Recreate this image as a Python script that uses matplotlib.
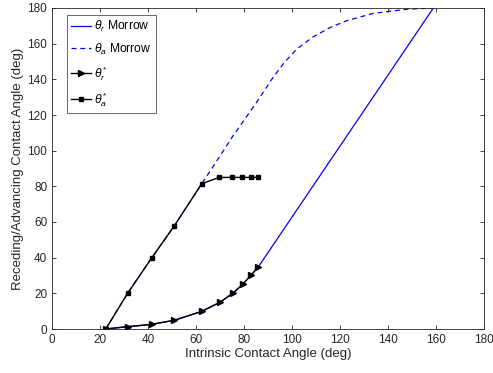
import matplotlib
matplotlib.use("Agg")
import matplotlib.pyplot as plt

plt.rcParams['font.family'] = ['Liberation Sans', 'DejaVu Sans']
plt.rcParams['mathtext.fontset'] = 'custom'
plt.rcParams['mathtext.it'] = 'Liberation Sans:italic'
plt.rcParams['mathtext.rm'] = 'Liberation Sans'

# Data
theta_star_x = [22.4, 31.5, 41.5, 51.0, 62.4, 70.0, 75.3, 79.4, 82.9, 86.0]
theta_r_star = [0.0, 1.3, 2.6, 4.9, 9.9, 15.0, 20.0, 25.0, 30.1, 34.9]
theta_a_star_x = [22.4, 31.5, 41.5, 51.0, 62.4, 69.7, 75.1, 79.3, 82.9, 86.0]
theta_a_star = [0.0, 20.0, 39.8, 57.9, 81.5, 85.0, 85.0, 85.0, 85.0, 85.0]

morrow_r_x = [22.4, 31.5, 41.5, 51.0, 62.4, 70.0, 75.3, 79.4, 82.9, 86.0, 158.9]
morrow_r = [0.0, 1.3, 2.6, 4.9, 9.9, 15.0, 20.0, 25.0, 30.1, 34.9, 180.0]
morrow_a_x = [22.4, 31.5, 41.5, 51.0, 62.4, 70.0, 75.5, 81.8, 86.7, 91.3, 96.4,
              102.0, 108.9, 115.8, 122.8, 133.9, 147.8, 158.9]
morrow_a = [0.0, 20.0, 39.8, 57.9, 81.5, 97.0, 108.5, 120.5, 130.0, 139.5, 148.8,
            157.0, 163.9, 169.0, 172.9, 177.0, 179.3, 180.0]

xticks = list(range(0, 181, 20))
yticks = list(range(0, 181, 20))

fig = plt.figure(figsize=(4.93, 3.73), dpi=100)
ax = fig.add_axes([52/493, 1-329/373, 432/493, 321/373])

blue = (0, 0, 1)
ax.plot(morrow_r_x, morrow_r, '-', color=blue, lw=0.9, label=r'$\theta_r$ Morrow')
ax.plot(morrow_a_x, morrow_a, '--', color=blue, lw=0.9, dashes=(4, 3), label=r'$\theta_a$ Morrow')
ax.plot(theta_star_x, theta_r_star, '-', color='k', lw=1.0, marker='>', ms=4,
        label=r'$\theta_r^*$')
ax.plot(theta_a_star_x, theta_a_star, '-', color='k', lw=1.0, marker='s', ms=2.5,
        label=r'$\theta_a^*$')

ax.set_xlim(0, 180)
ax.set_ylim(0, 180)
ax.set_xticks(xticks)
ax.set_yticks(yticks)
tc = (0.15, 0.15, 0.15)
ax.tick_params(direction='in', length=3, width=0.6, colors=tc, labelsize=8.5,
               top=True, right=True, labeltop=False, labelright=False, pad=3.5)
for s in ax.spines.values():
    s.set_color(tc)
    s.set_linewidth(0.6)
ax.set_xlabel('Intrinsic Contact Angle (deg)', fontsize=9.5, color=tc, labelpad=1.5)
ax.set_ylabel('Receding/Advancing Contact Angle (deg)', fontsize=9.5, color=tc, labelpad=2)

leg = ax.legend(loc='upper left', bbox_to_anchor=(0.035, 0.978), borderaxespad=0,
                fontsize=8.7, frameon=True, fancybox=False,
                edgecolor=tc, handlelength=1.6,
                labelspacing=0.6, handletextpad=0.3, borderpad=0.35)
leg.get_frame().set_linewidth(0.6)

fig.savefig('out.png', dpi=100)
